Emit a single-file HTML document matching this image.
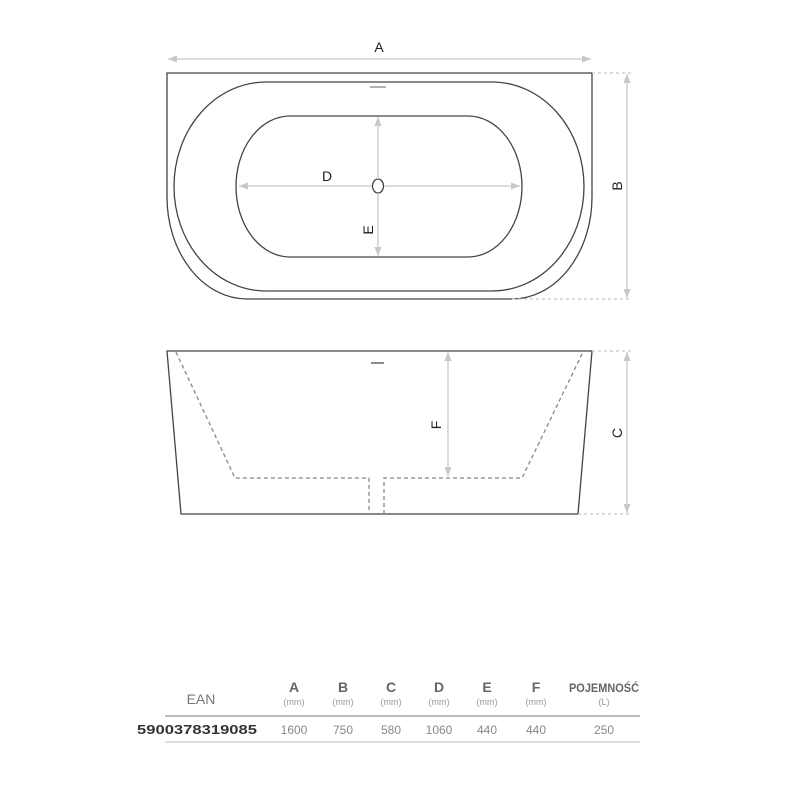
<!DOCTYPE html>
<html><head><meta charset="utf-8"><style>
body{margin:0;background:#fff;width:800px;height:800px;overflow:hidden}
svg{display:block}
text{font-family:"Liberation Sans",sans-serif}
</style></head><body>
<svg width="800" height="800" viewBox="0 0 800 800">
<defs>
<marker id="ah" viewBox="0 0 10 10" refX="10" refY="5" markerWidth="7" markerHeight="7" orient="auto-start-reverse"><path d="M0,1 L10,5 L0,9 z" fill="#c8c8c8"/></marker>
</defs>
<g fill="none" stroke="#444" stroke-width="1.3">
<path d="M167,73 L592,73 L592,197 A80,102 0 0 1 512,299 L247,299 A80,102 0 0 1 167,197 Z"/>
<path d="M266,82 L492,82 A92,104.5 0 0 1 492,291 L266,291 A92,104.5 0 0 1 266,82 Z"/>
<path d="M290,116 L468,116 A54,70.5 0 0 1 468,257 L290,257 A54,70.5 0 0 1 290,116 Z"/>
<ellipse cx="378" cy="186" rx="5.5" ry="7"/>
<path d="M167,351 L592,351 L578,514 L181,514 Z"/>
</g>
<line x1="370" y1="87" x2="386" y2="87" stroke="#999" stroke-width="1.5"/>
<line x1="371" y1="363" x2="384" y2="363" stroke="#666" stroke-width="1.5"/>
<g stroke="#c8c8c8" stroke-width="1.3" fill="none">
<line x1="168" y1="59" x2="591" y2="59" marker-start="url(#ah)" marker-end="url(#ah)"/>
<line x1="239" y1="186" x2="372" y2="186" marker-start="url(#ah)"/>
<line x1="384" y1="186" x2="520" y2="186" marker-end="url(#ah)"/>
<line x1="378" y1="117" x2="378" y2="179" marker-start="url(#ah)"/>
<line x1="378" y1="193" x2="378" y2="256" marker-end="url(#ah)"/>
<line x1="627" y1="74" x2="627" y2="298" marker-start="url(#ah)" marker-end="url(#ah)"/>
<line x1="448" y1="352" x2="448" y2="476" marker-start="url(#ah)" marker-end="url(#ah)"/>
<line x1="627" y1="352" x2="627" y2="513" marker-start="url(#ah)" marker-end="url(#ah)"/>
<g stroke-dasharray="3,3">
<line x1="592" y1="73" x2="632" y2="73"/><line x1="512" y1="299" x2="632" y2="299"/>
<line x1="592" y1="351" x2="632" y2="351"/><line x1="578" y1="514" x2="632" y2="514"/>
</g>
</g>
<path d="M176,352 L235,478 L369,478 L369,514 M384,514 L384,478 L522,478 L583,352" fill="none" stroke="#888" stroke-width="1.3" stroke-dasharray="4,3"/>
<g font-size="14" fill="#222" text-anchor="middle">
<text x="379" y="52">A</text>
<text x="327" y="181">D</text>
<text transform="translate(373,230) rotate(-90)">E</text>
<text transform="translate(622,186) rotate(-90)">B</text>
<text transform="translate(441,425) rotate(-90)">F</text>
<text transform="translate(622,433) rotate(-90)">C</text>
</g>
<g text-anchor="middle" fill="#777">
<text x="201" y="704" font-size="14">EAN</text>
<g font-size="14" font-weight="bold" fill="#666">
<text x="294" y="692">A</text><text x="343" y="692">B</text><text x="391" y="692">C</text><text x="439" y="692">D</text><text x="487" y="692">E</text><text x="536" y="692">F</text>
<text x="604" y="692" font-size="12" textLength="70" lengthAdjust="spacingAndGlyphs">POJEMNOŚĆ</text>
</g>
<g font-size="9" fill="#999">
<text x="294" y="705">(mm)</text><text x="343" y="705">(mm)</text><text x="391" y="705">(mm)</text><text x="439" y="705">(mm)</text><text x="487" y="705">(mm)</text><text x="536" y="705">(mm)</text><text x="604" y="705">(L)</text>
</g>
<text x="197" y="734" font-size="13" font-weight="bold" fill="#333" textLength="120" lengthAdjust="spacingAndGlyphs">5900378319085</text>
<g font-size="12" fill="#888">
<text x="294" y="734">1600</text><text x="343" y="734">750</text><text x="391" y="734">580</text><text x="439" y="734">1060</text><text x="487" y="734">440</text><text x="536" y="734">440</text><text x="604" y="734">250</text>
</g>
</g>
<line x1="165" y1="716" x2="640" y2="716" stroke="#bbb" stroke-width="2"/>
<line x1="165" y1="742" x2="640" y2="742" stroke="#bbb" stroke-width="1"/>
</svg>
</body></html>
